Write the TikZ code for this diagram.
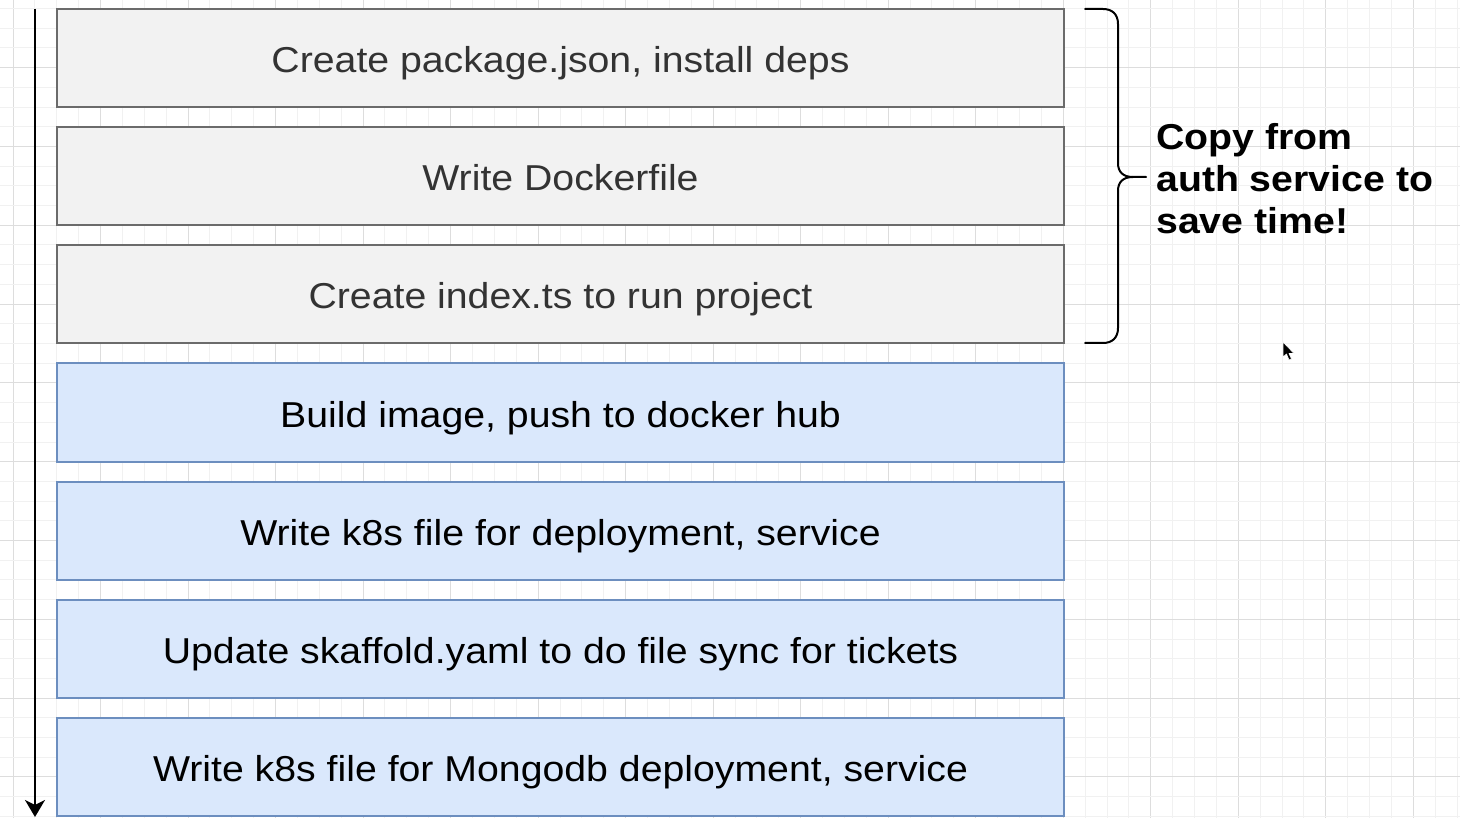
\documentclass[tikz,border=0pt]{standalone}
\usepackage{fontspec}
\setmainfont{Liberation Sans}
\usetikzlibrary{arrows.meta}
\definecolor{gridminor}{HTML}{F1F1F1}
\definecolor{gridmajor}{HTML}{DDDDDD}
\definecolor{grayfill}{HTML}{F2F2F2}
\definecolor{grayline}{HTML}{6B6B6B}
\definecolor{graytext}{HTML}{333333}
\definecolor{bluefill}{HTML}{DAE8FC}
\definecolor{blueline}{HTML}{6C8EBF}
\newcommand{\wide}[1]{\scalebox{1.09}[1]{#1}}
\tikzset{
  stepbase/.style={rectangle, minimum width=1007pt, minimum height=98pt, inner sep=0pt, line width=2pt,
    text height=30pt, text depth=0pt, font=\fontsize{36}{40}\selectfont},
  graybox/.style={stepbase, draw=grayline, fill=grayfill, text=graytext},
  bluebox/.style={stepbase, draw=blueline, fill=bluefill, text=black},
  noteText/.style={align=left, anchor=north west, inner sep=0pt, font=\fontsize{36}{42}\selectfont\bfseries},
}
\begin{document}
\begin{tikzpicture}[x=1pt,y=-1pt]
\useasboundingbox (0,0) rectangle (1460,818);
\fill[white] (0,0) rectangle (1460,818);
% grid
\foreach \i in {0,...,66} {
  \pgfmathsetmacro{\gx}{13+21.88*\i}
  \pgfmathtruncatemacro{\m}{mod(\i,4)}
  \ifnum\m=0 \draw[gridmajor, line width=1pt] (\gx,0) -- (\gx,818);
  \else \draw[gridminor, line width=1pt] (\gx,0) -- (\gx,818); \fi
}
\foreach \i in {0,...,41} {
  \pgfmathsetmacro{\gy}{8.6+19.7*\i}
  \pgfmathtruncatemacro{\m}{mod(\i,4)}
  \ifnum\m=3 \draw[gridmajor, line width=1pt] (0,\gy) -- (1460,\gy);
  \else \draw[gridminor, line width=1pt] (0,\gy) -- (1460,\gy); \fi
}
% step boxes
\node[graybox] (s1) at (560.5,58) {\wide{Create package.json, install deps}};
\node[graybox] (s2) at (560.5,176) {\wide{Write Dockerfile}};
\node[graybox] (s3) at (560.5,294) {\wide{Create index.ts to run project}};
\node[bluebox] (s4) at (560.5,412.5) {\wide{Build image, push to docker hub}};
\node[bluebox] (s5) at (560.5,530.5) {\wide{Write k8s file for deployment, service}};
\node[bluebox] (s6) at (560.5,648.5) {\wide{Update skaffold.yaml to do file sync for tickets}};
\node[bluebox] (s7) at (560.5,766.5) {\wide{Write k8s file for Mongodb deployment, service}};
% timeline arrow
\coordinate (atop) at (35,9);
\coordinate (abot) at (35,817);
\draw[line width=2pt, -{Stealth[length=17pt,width=20pt,inset=5pt]}] (atop) -- (abot);
% brace
\coordinate (btop) at (1085,9);
\coordinate (btip) at (1146,177);
\coordinate (bbot) at (1085,343);
\draw[line width=2pt, line cap=round, line join=round]
  (btop) -- (1103,9) .. controls (1112,9) and (1118,14) .. (1118,24)
  -- (1118,163) .. controls (1118,172) and (1123,177) .. (1133,177) -- (btip);
\draw[line width=2pt, line cap=round, line join=round]
  (1133,177) .. controls (1123,177) and (1118,182) .. (1118,191)
  -- (1118,328) .. controls (1118,338) and (1112,343) .. (1103,343) -- (bbot);
% note
\node[noteText] (note) at (1156,123) {\wide{Copy from}\\\wide{auth service to}\\\wide{save time!}};
% mouse cursor
\filldraw[fill=black, draw=white, line width=0.6pt, line join=round]
  (1283,342) -- (1283,357) -- (1286.5,354) -- (1289,360) -- (1291.5,359) -- (1289,353.5) -- (1294,353.5) -- cycle;
\end{tikzpicture}
\end{document}
